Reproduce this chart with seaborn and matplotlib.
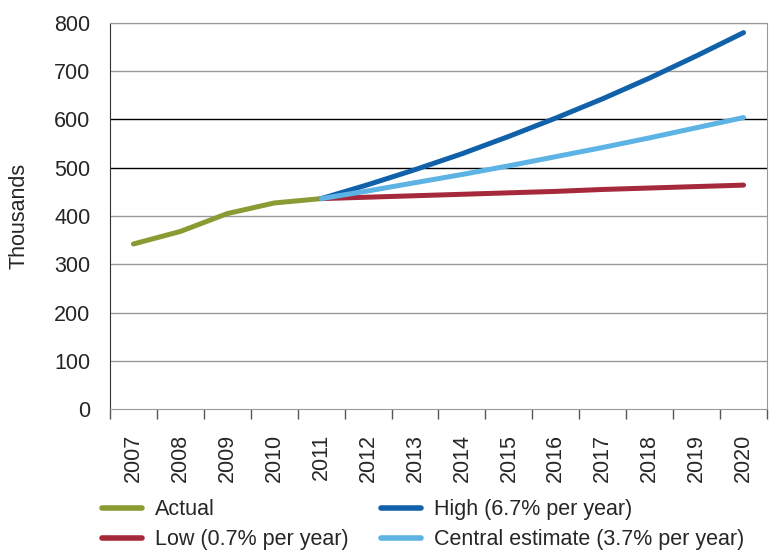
import pandas as pd
import seaborn as sns
import matplotlib.pyplot as plt
from matplotlib.ticker import FixedLocator

# data (thousands)
years = list(range(2007, 2021))
actual_years = [2007, 2008, 2009, 2010, 2011]
actual = [342, 368, 405, 427, 436]
proj_years = list(range(2011, 2021))
high = [436, 465, 496, 529, 565, 603, 643, 686, 732, 780]
central = [436, 452, 469, 486, 504, 523, 542, 562, 583, 604]
low = [436, 439, 442, 445, 448, 451, 455, 458, 461, 464]

names = ['Actual', 'High (6.7% per year)', 'Low (0.7% per year)', 'Central estimate (3.7% per year)']
colors = ['#8a9b33', '#1161aa', '#a5293a', '#5cb3e4']

frames = []
for name, yrs, vals in [(names[0], actual_years, actual), (names[1], proj_years, high),
                        (names[2], proj_years, low), (names[3], proj_years, central)]:
    frames.append(pd.DataFrame({'year': yrs, 'value': vals, 'series': name}))
df = pd.concat(frames)
df['pos'] = df['year'] - years[0]

sns.set_style('white')
plt.rcParams['font.family'] = ['Liberation Sans', 'DejaVu Sans']
fs = 15.5

fig = plt.figure(figsize=(7.79, 5.59), dpi=100)
ax = fig.add_axes([0.1412, 0.2683, 0.8434, 0.6906])

sns.lineplot(data=df, x='pos', y='value', hue='series', hue_order=names,
             palette=dict(zip(names, colors)), linewidth=3.6, ax=ax,
             solid_capstyle='round', legend=False)

ax.set_xlim(-0.5, len(years) - 0.5)
ax.set_ylim(0, 800)
ax.set_yticks(range(0, 801, 100))
ax.tick_params(axis='y', labelsize=fs, length=11, width=1, color='#888888', pad=3)
for v in range(100, 801, 100):
    ax.axhline(v, color='black' if v in (500, 600) else '#999999', lw=1, zorder=0)

ax.set_xticks(range(len(years)))
ax.set_xticklabels([str(y) for y in years], rotation=90, fontsize=fs)
ax.xaxis.set_minor_locator(FixedLocator([i - 0.5 for i in range(len(years) + 1)]))
ax.tick_params(axis='x', which='major', length=0, pad=18)
ax.tick_params(axis='x', which='minor', length=7, width=1, color='#555555', bottom=True)
ax.set_xlabel('')
ax.set_ylabel('Thousands', fontsize=fs, labelpad=18)

ax.spines['left'].set_color('#333333')
for s in ['right', 'top', 'bottom']:
    ax.spines[s].set_color('#999999')

# legend in two columns below the plot
handles = [plt.Line2D([], [], color=c, lw=4) for c in colors]
leg_order = [0, 2, 1, 3]
fig.legend([handles[i] for i in leg_order], [names[i] for i in leg_order],
           loc='lower left', bbox_to_anchor=(0.131, 0.016), ncol=2, frameon=False,
           borderpad=0, borderaxespad=0, fontsize=fs, handlelength=1.86,
           handletextpad=0.6, columnspacing=1.5, labelspacing=0.4)

fig.savefig('out.png', dpi=100)
